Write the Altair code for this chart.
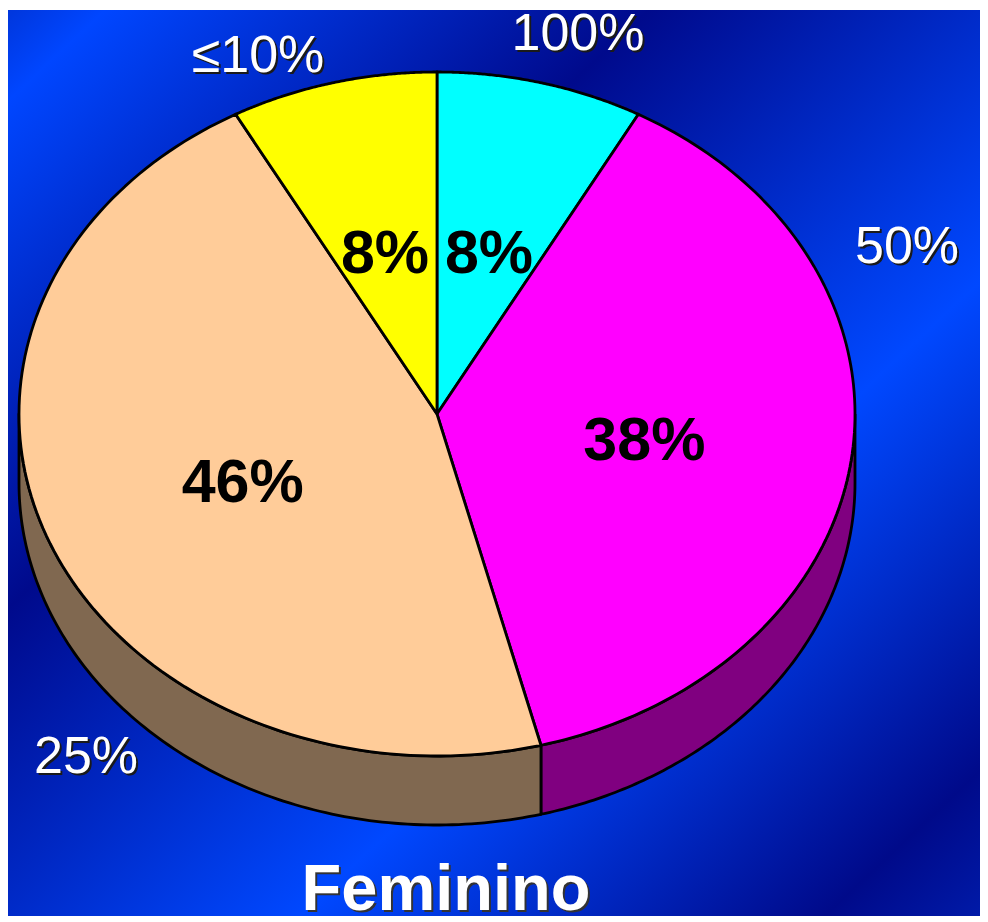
import altair as alt
import numpy as np
import pandas as pd

# ---- data ----
categories = ["100%", "50%", "25%", "≤10%"]
shares = [8, 38, 46, 8]
share_labels = ["8%", "38%", "46%", "8%"]
top_colors = ["#00FFFF", "#FF00FF", "#FFCC99", "#FFFF00"]
side_colors = ["#008080", "#800080", "#806850", "#808000"]
title_text = "Feminino"

# ---- layout (pixels of the plot area) ----
W, H = 972, 906
CX, CY = 429, 404
RX, RY = 418, 342
DEPTH = 69
N = 120
INNER = 0.5
outer_pos = {"100%": (570, 24), "50%": (899, 237), "25%": (78, 747), "≤10%": (250, 46)}
title_pos = (438, 880)

total = float(sum(shares))
edges = np.concatenate([[0.0], np.cumsum(shares)]) / total * 2 * np.pi


def ex(t, k=1.0):
    return CX + k * RX * np.sin(t)


def ey(t, k=1.0):
    return CY - k * RY * np.cos(t)


# top faces
top_rows = []
for i, c in enumerate(categories):
    a, b = edges[i], edges[i + 1]
    ts = np.linspace(a, b, N)
    pts = [(CX, CY)] + [(ex(t), ey(t)) for t in ts] + [(CX, CY)]
    for j, (x, y) in enumerate(pts):
        top_rows.append({"cat": c, "o": j, "x": x, "y": y})
top_df = pd.DataFrame(top_rows)

# visible side walls (front half: angles pi/2 .. 3pi/2)
side_rows = []
for i, c in enumerate(categories):
    a = max(edges[i], np.pi / 2)
    b = min(edges[i + 1], 3 * np.pi / 2)
    if b <= a:
        continue
    ts = np.linspace(a, b, N)
    pts = [(ex(t), ey(t)) for t in ts] + [(ex(t), ey(t) + DEPTH) for t in ts[::-1]]
    pts.append(pts[0])
    for j, (x, y) in enumerate(pts):
        side_rows.append({"cat": c, "o": j, "x": x, "y": y})
side_df = pd.DataFrame(side_rows)

# inner labels at the middle of each slice
mids = (edges[:-1] + edges[1:]) / 2
inner_df = pd.DataFrame({
    "lab": share_labels,
    "x": [ex(m, INNER) for m in mids],
    "y": [ey(m, INNER) for m in mids],
})
outer_df = pd.DataFrame({
    "lab": categories,
    "x": [outer_pos[c][0] for c in categories],
    "y": [outer_pos[c][1] for c in categories],
})
title_df = pd.DataFrame({"lab": [title_text], "x": [title_pos[0]], "y": [title_pos[1]]})

xs = alt.Scale(domain=[0, W], nice=False, zero=False)
ys = alt.Scale(domain=[0, H], nice=False, zero=False, reverse=True)
X = alt.X("x:Q", scale=xs, axis=None)
Y = alt.Y("y:Q", scale=ys, axis=None)

bg = alt.Chart(pd.DataFrame({"d": [0]})).mark_rect(
    color=alt.Gradient(
        gradient="linear", x1=0, y1=0, x2=1, y2=1,
        stops=[
            alt.GradientStop(offset=0.0, color="#0036dc"),
            alt.GradientStop(offset=0.05, color="#0046ff"),
            alt.GradientStop(offset=0.33, color="#000a8c"),
            alt.GradientStop(offset=0.65, color="#0048ff"),
            alt.GradientStop(offset=0.92, color="#000a8a"),
            alt.GradientStop(offset=1.0, color="#001aa8"),
        ],
    )
).encode(x=alt.value(0), x2=alt.value(W), y=alt.value(0), y2=alt.value(H))

layers = [bg]
for i, c in enumerate(categories):
    sub = side_df[side_df["cat"] == c]
    if len(sub):
        layers.append(
            alt.Chart(sub).mark_line(fill=side_colors[i], stroke="black", strokeWidth=2.8,
                                     strokeJoin="round")
            .encode(x=X, y=Y, order="o:Q")
        )
for i, c in enumerate(categories):
    sub = top_df[top_df["cat"] == c]
    layers.append(
        alt.Chart(sub).mark_line(fill=top_colors[i], stroke="black", strokeWidth=2.8,
                                 strokeJoin="round")
        .encode(x=X, y=Y, order="o:Q")
    )

font = "Liberation Sans"
layers.append(
    alt.Chart(inner_df).mark_text(font=font, fontSize=61, fontWeight="bold", color="black",
                                  baseline="middle", align="center", dy=7)
    .encode(x=X, y=Y, text="lab:N")
)
layers.append(
    alt.Chart(outer_df).mark_text(font=font, fontSize=52, color="#1a1a1a", dx=2, dy=2,
                                  baseline="middle", align="center")
    .encode(x=X, y=Y, text="lab:N")
)
layers.append(
    alt.Chart(outer_df).mark_text(font=font, fontSize=52, color="white",
                                  baseline="middle", align="center")
    .encode(x=X, y=Y, text="lab:N")
)
layers.append(
    alt.Chart(title_df).mark_text(font=font, fontSize=65, fontWeight="bold", color="#333333",
                                  dx=2, dy=2, baseline="middle", align="center")
    .encode(x=X, y=Y, text="lab:N")
)
layers.append(
    alt.Chart(title_df).mark_text(font=font, fontSize=65, fontWeight="bold", color="white",
                                  baseline="middle", align="center")
    .encode(x=X, y=Y, text="lab:N")
)

chart = alt.layer(*layers).properties(width=W, height=H, padding=0).configure_view(stroke=None)
chart.save("out.html", embed_options={"renderer": "svg", "actions": False})
